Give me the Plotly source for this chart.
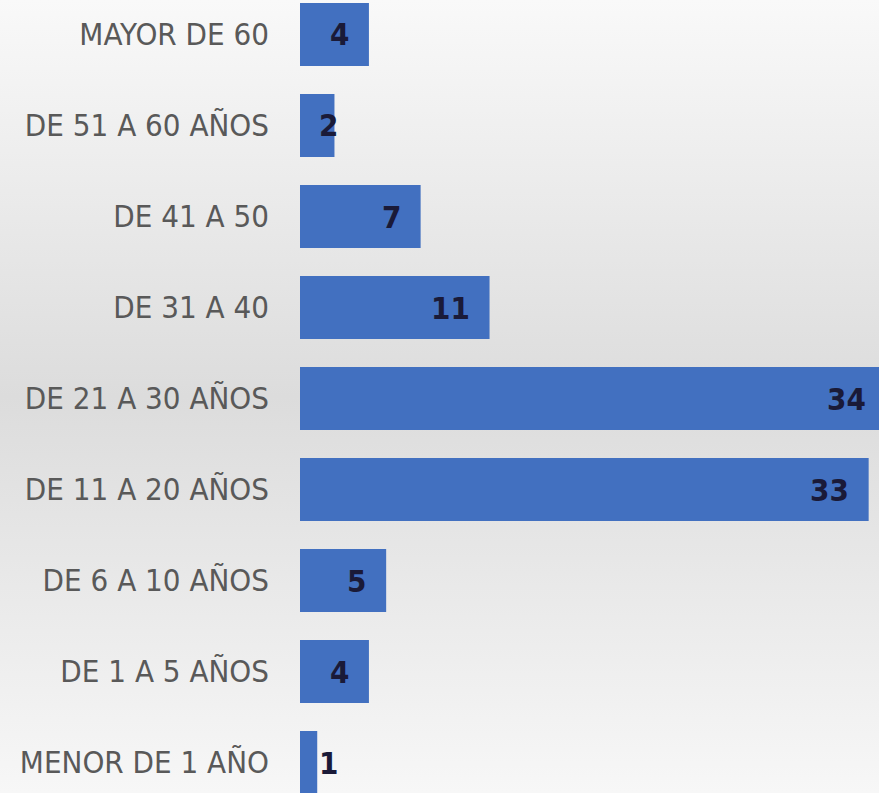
import plotly.graph_objects as go
import base64

categories = ["MENOR DE 1 AÑO", "DE 1 A 5 AÑOS", "DE 6 A 10 AÑOS", "DE 11 A 20 AÑOS",
              "DE 21 A 30 AÑOS", "DE 31 A 40", "DE 41 A 50", "DE 51 A 60 AÑOS", "MAYOR DE 60"]
values = [1, 4, 5, 33, 34, 11, 7, 2, 4]

W, H = 879, 793
ML = 300
PW = W - ML
XMAX = 33.6
px_per_unit = PW / XMAX

LABEL_FONT = "Liberation Sans Narrow, DejaVu Sans Condensed, Arial Narrow, sans-serif"
NUM_SIZE = 31

fig = go.Figure()
fig.add_trace(go.Bar(
    y=categories, x=values, orientation="h",
    marker=dict(color="#4270C0", line=dict(width=0)),
    width=0.69, hoverinfo="skip",
))

# value labels: right-aligned near bar end; pushed right if they do not fit
digit_w = 16
for c, v in zip(categories, values):
    w = digit_w * len(str(v))
    end_px = v * px_per_unit
    if end_px - 18 - w >= 17:
        fig.add_annotation(x=0, y=c, text=str(v), showarrow=False, xanchor="right",
                           xshift=end_px - 18,
                           font=dict(family=LABEL_FONT, size=NUM_SIZE, color="#1a1a38",
                                     weight="bold"))
    else:
        fig.add_annotation(x=0, y=c, text=str(v), showarrow=False, xanchor="left",
                           xshift=17,
                           font=dict(family=LABEL_FONT, size=NUM_SIZE, color="#1a1a38",
                                     weight="bold"))

svg = ('<svg xmlns="http://www.w3.org/2000/svg" width="100" height="100" preserveAspectRatio="none">'
       '<defs><linearGradient id="g" x1="0" y1="0" x2="0" y2="1">'
       '<stop offset="0" stop-color="#f9f9f9"/>'
       '<stop offset="0.5" stop-color="#dcdcdc"/>'
       '<stop offset="1" stop-color="#f7f7f7"/>'
       '</linearGradient></defs><rect width="100" height="100" fill="url(#g)"/></svg>')
src = "data:image/svg+xml;base64," + base64.b64encode(svg.encode()).decode()
fig.add_layout_image(dict(source=src, xref="paper", yref="paper", x=-ML / PW, y=1,
                          sizex=W / PW, sizey=1, sizing="stretch", layer="below",
                          xanchor="left", yanchor="top"))

fig.update_layout(
    width=W, height=H,
    margin=dict(l=ML, r=0, t=0, b=0, autoexpand=False),
    paper_bgcolor="rgba(0,0,0,0)", plot_bgcolor="rgba(0,0,0,0)",
    showlegend=False,
    xaxis=dict(range=[0, XMAX], visible=False, fixedrange=True, automargin=False),
    yaxis=dict(range=[-0.335, 8.379], showgrid=False, zeroline=False, showline=False,
               ticks="", ticklabelstandoff=30, automargin=False,
               tickfont=dict(family=LABEL_FONT, size=31, color="#595959")),
)

fig.write_html("out.html")
